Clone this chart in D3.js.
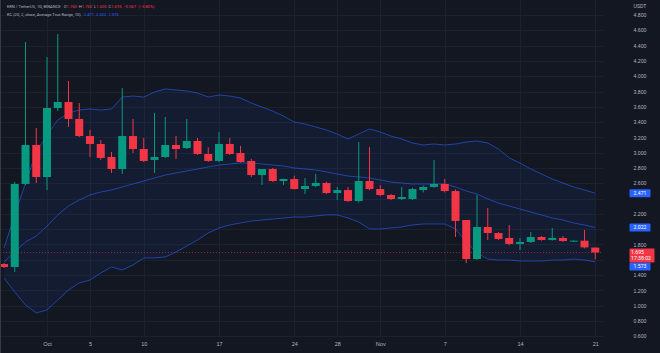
<!DOCTYPE html>
<html><head><meta charset="utf-8">
<script src="https://cdn.jsdelivr.net/npm/d3@7"></script>
<style>html,body{margin:0;padding:0;background:#131722;} svg{display:block;font-family:Roboto,"Liberation Sans",sans-serif;}</style>
</head><body><svg id="c" width="660" height="353"></svg>
<script>
const dates = ["2022-09-27","2022-09-28","2022-09-29","2022-09-30",
"2022-10-01","2022-10-02","2022-10-03","2022-10-04","2022-10-05","2022-10-06","2022-10-07","2022-10-08","2022-10-09","2022-10-10",
"2022-10-11","2022-10-12","2022-10-13","2022-10-14","2022-10-15","2022-10-16","2022-10-17","2022-10-18","2022-10-19","2022-10-20",
"2022-10-21","2022-10-22","2022-10-23","2022-10-24","2022-10-25","2022-10-26","2022-10-27","2022-10-28","2022-10-29","2022-10-30","2022-10-31",
"2022-11-01","2022-11-02","2022-11-03","2022-11-04","2022-11-05","2022-11-06","2022-11-07","2022-11-08","2022-11-09","2022-11-10",
"2022-11-11","2022-11-12","2022-11-13","2022-11-14","2022-11-15","2022-11-16","2022-11-17","2022-11-18","2022-11-19","2022-11-20","2022-11-21"];
const open  = [1.545,1.506,2.591,3.101,2.682,3.584,3.663,3.441,3.218,3.114,2.944,2.787,3.218,3.048,2.905,2.944,3.101,3.061,3.153,2.983,2.892,3.114,2.996,2.892,2.708,2.787,2.630,2.656,2.525,2.565,2.604,2.473,2.512,2.369,2.630,2.525,2.447,2.395,2.395,2.512,2.552,2.591,2.499,2.120,1.610,2.029,1.950,1.885,1.807,1.833,1.898,1.859,1.885,1.846,1.850,1.760];
const high  = [1.558,2.617,4.447,3.323,4.251,4.552,3.937,3.650,3.297,3.166,3.009,3.846,3.441,3.192,3.519,3.467,3.218,3.441,3.192,3.070,3.271,3.192,3.088,2.920,2.787,2.800,2.660,2.700,2.669,2.722,2.620,2.552,2.552,3.140,3.075,2.578,2.460,2.552,2.540,2.570,2.905,2.656,2.520,2.120,2.447,2.277,1.960,2.055,1.885,1.963,1.910,2.016,1.911,1.855,1.990,1.760];
const low   = [1.493,1.441,2.578,2.604,2.512,3.545,3.336,3.205,2.944,2.905,2.735,2.722,2.996,2.878,2.735,2.931,2.918,3.048,2.970,2.878,2.878,2.970,2.870,2.682,2.578,2.617,2.578,2.520,2.460,2.550,2.460,2.382,2.356,2.350,2.510,2.430,2.380,2.380,2.380,2.480,2.540,2.480,1.898,1.558,1.600,1.859,1.860,1.790,1.728,1.820,1.850,1.850,1.835,1.840,1.750,1.605];
const close = [1.506,2.591,3.101,2.682,3.584,3.663,3.441,3.218,3.114,2.931,2.787,3.218,3.048,2.892,2.944,3.101,3.048,3.153,2.983,2.892,3.114,2.983,2.878,2.708,2.787,2.630,2.656,2.525,2.565,2.604,2.473,2.512,2.369,2.630,2.525,2.447,2.395,2.421,2.525,2.552,2.591,2.499,2.107,1.610,2.029,1.950,1.872,1.807,1.833,1.898,1.859,1.885,1.846,1.850,1.762,1.695];
const kcUpper  = [1.754,2.186,2.604,3.009,3.231,3.427,3.519,3.558,3.571,3.558,3.571,3.728,3.741,3.728,3.793,3.833,3.820,3.807,3.780,3.728,3.754,3.741,3.715,3.650,3.597,3.545,3.480,3.401,3.375,3.336,3.297,3.244,3.179,3.244,3.310,3.271,3.218,3.179,3.127,3.101,3.114,3.101,3.114,3.140,3.153,3.127,3.048,2.931,2.865,2.787,2.722,2.656,2.604,2.552,2.512,2.471];
const kcMiddle = [1.571,1.702,1.833,1.911,2.042,2.186,2.303,2.382,2.447,2.486,2.512,2.552,2.591,2.630,2.669,2.708,2.735,2.761,2.787,2.813,2.839,2.852,2.865,2.865,2.852,2.839,2.826,2.800,2.787,2.774,2.748,2.722,2.695,2.682,2.669,2.643,2.617,2.604,2.591,2.591,2.591,2.591,2.552,2.499,2.460,2.395,2.342,2.303,2.264,2.225,2.186,2.146,2.120,2.081,2.055,2.022];
const kcLower  = [1.362,1.179,1.009,0.905,0.944,1.075,1.205,1.297,1.336,1.427,1.506,1.467,1.532,1.624,1.624,1.637,1.702,1.780,1.859,1.950,2.016,2.055,2.081,2.107,2.120,2.133,2.146,2.159,2.159,2.173,2.186,2.186,2.146,2.094,2.003,2.003,2.016,2.029,2.055,2.068,2.068,2.068,2.003,1.833,1.689,1.610,1.597,1.597,1.584,1.584,1.584,1.597,1.597,1.610,1.597,1.573];
const priceTicks = [4.8,4.6,4.4,4.2,4.0,3.8,3.6,3.4,3.2,3.0,2.8,2.6,2.4,2.2,2.0,1.8,1.6,1.4,1.2,1.0,0.8,0.6];
const dateTicks = ["2022-10-01","2022-10-05","2022-10-10","2022-10-17","2022-10-24","2022-10-28","2022-11-01","2022-11-07","2022-11-14","2022-11-21"];
const dateTickLabels = ["Oct","5","10","17","24","28","Nov","7","14","21"];
const lastValues = {upper:2.471, middle:2.022, lower:1.573, price:1.695};
const countdown = "17:38:02";

const GREEN="#089981", RED="#f23645", BLUE="#2962ff", TXT="#b2b5be", GRID="#1d212c";
const plotR = 603, plotB = 337;
const svg = d3.select("#c");
const parse = d3.utcParse("%Y-%m-%d");
const D = dates.map(parse);
const x = d3.scaleUtc().domain([D[0], D[D.length-1]]).range([4, 595.25]);
const y = d3.scaleLinear().domain([0.6, 4.8]).range([336.3, 15]);

svg.append("rect").attr("width",660).attr("height",353).attr("fill","#131722");

// grid
const g = svg.append("g");
g.selectAll(".hg").data(priceTicks).join("line")
  .attr("x1",0).attr("x2",plotR).attr("y1",d=>Math.round(y(d))+0.5).attr("y2",d=>Math.round(y(d))+0.5)
  .attr("stroke",GRID).attr("stroke-width",1);
g.selectAll(".vg").data(dateTicks).join("line")
  .attr("y1",0).attr("y2",plotB).attr("x1",d=>Math.round(x(parse(d)))+0.5).attr("x2",d=>Math.round(x(parse(d)))+0.5)
  .attr("stroke",GRID).attr("stroke-width",1);

svg.append("clipPath").attr("id","clip").append("rect").attr("x",0).attr("y",0).attr("width",plotR).attr("height",plotB);
const p = svg.append("g").attr("clip-path","url(#clip)");

const idx = d3.range(dates.length);
// band fill
p.append("path").datum(idx)
  .attr("d", d3.area().x(i=>x(D[i])).y0(i=>y(kcLower[i])).y1(i=>y(kcUpper[i])))
  .attr("fill","rgba(41,98,255,0.07)");
[kcUpper,kcMiddle,kcLower].forEach(arr=>{
  p.append("path").datum(idx)
   .attr("d", d3.line().x(i=>x(D[i])).y(i=>y(arr[i])))
   .attr("fill","none").attr("stroke",BLUE).attr("stroke-opacity",0.58).attr("stroke-width",1);
});

// candles
const c = p.selectAll(".cdl").data(idx).join("g");
c.append("line")
  .attr("x1",i=>x(D[i])).attr("x2",i=>x(D[i]))
  .attr("y1",i=>y(high[i])).attr("y2",i=>y(low[i]))
  .attr("stroke",i=>close[i]>=open[i]?GREEN:RED).attr("stroke-width",1);
c.append("rect")
  .attr("x",i=>x(D[i])-4).attr("width",8)
  .attr("y",i=>y(Math.max(open[i],close[i])))
  .attr("height",i=>Math.max(1, Math.abs(y(open[i])-y(close[i]))))
  .attr("fill",i=>close[i]>=open[i]?GREEN:RED);

// current price line
p.append("line").attr("x1",0).attr("x2",plotR)
  .attr("y1",y(lastValues.price)).attr("y2",y(lastValues.price))
  .attr("stroke",RED).attr("stroke-opacity",0.7).attr("stroke-width",0.8).attr("stroke-dasharray","1,2");

// tags positions
const redTop = y(lastValues.price)-4, redH = 14;
const tags = [
  {v:lastValues.upper, cy:y(lastValues.upper), color:BLUE},
  {v:lastValues.middle, cy:y(lastValues.middle), color:BLUE},
  {v:lastValues.lower, cy:Math.max(y(lastValues.lower), redTop+redH+4), color:BLUE}
];

// price axis
const ya = svg.append("g").attr("transform","translate(640,0)")
  .call(d3.axisRight(y).tickValues(priceTicks).tickFormat(d3.format(".3f")).tickSize(0).tickPadding(0));
ya.select(".domain").remove();
ya.selectAll("text").attr("fill",TXT).attr("font-size",5.2).attr("text-anchor","middle").attr("x",0)
  .attr("opacity",d=>{
    const yy=y(d);
    if (tags.some(t=>Math.abs(t.cy-yy)<6)) return 0;
    if (yy>redTop-3 && yy<redTop+redH+3) return 0;
    return 1;
  });
svg.append("text").attr("x",640).attr("y",8).attr("text-anchor","middle").attr("fill",TXT).attr("font-size",5.2).text("USDT");

// date axis
const xa = svg.append("g").attr("transform",`translate(0,${plotB})`)
  .call(d3.axisBottom(x).tickValues(dateTicks.map(parse)).tickFormat((d,i)=>dateTickLabels[i]).tickSize(0).tickPadding(0));
xa.select(".domain").remove();
xa.selectAll("text").attr("fill",TXT).attr("font-size",5.5).attr("dy",null).attr("y",9);

// tags
tags.forEach(t=>{
  svg.append("rect").attr("x",629.5).attr("y",t.cy-4).attr("width",21).attr("height",8).attr("rx",1).attr("fill",t.color);
  svg.append("text").attr("x",640).attr("y",t.cy+1.9).attr("text-anchor","middle").attr("fill","#fff").attr("font-size",5.2).text(d3.format(".3f")(t.v));
});
svg.append("rect").attr("x",629.5).attr("y",redTop).attr("width",25).attr("height",redH).attr("rx",1).attr("fill",RED);
svg.append("text").attr("x",631).attr("y",redTop+5.6).attr("fill","#fff").attr("font-size",5.2).text(d3.format(".3f")(lastValues.price));
svg.append("text").attr("x",631).attr("y",redTop+11.8).attr("fill","#fff").attr("font-size",5.2).text(countdown);

// header
const h1 = svg.append("text").attr("x",7).attr("y",7.6).attr("font-size",4.1).attr("fill",TXT);
h1.append("tspan").text("ERN / TetherUS, 1D, BINANCE");
const ohlc = [["O",open],["H",high],["L",low],["C",close]];
const last = dates.length-1;
ohlc.forEach(([k,arr],j)=>{
  h1.append("tspan").attr("dx", j===0?3:2).text(k);
  h1.append("tspan").attr("fill",RED).text(d3.format(".3f")(arr[last]));
});
const chg = close[last]-close[last-1];
h1.append("tspan").attr("dx",2).attr("fill",RED).text(d3.format(".3f")(chg).replace("-","−"));
h1.append("tspan").attr("dx",2).attr("fill",RED).text("(" + d3.format(".2f")(chg/close[last-1]*100).replace("-","−") + "%)");

const h2 = svg.append("text").attr("x",7).attr("y",15.6).attr("font-size",4.1).attr("fill",TXT);
h2.append("tspan").text("KC (20, 2, close, Average True Range, 10)");
[lastValues.upper,lastValues.middle,lastValues.lower].forEach((v,j)=>{
  h2.append("tspan").attr("dx", j===0?3:2).attr("fill",BLUE).text(d3.format(".3f")(v));
});

// frame
svg.append("line").attr("x1",0.5).attr("x2",0.5).attr("y1",0).attr("y2",353).attr("stroke","#363a45");
</script></body></html>
